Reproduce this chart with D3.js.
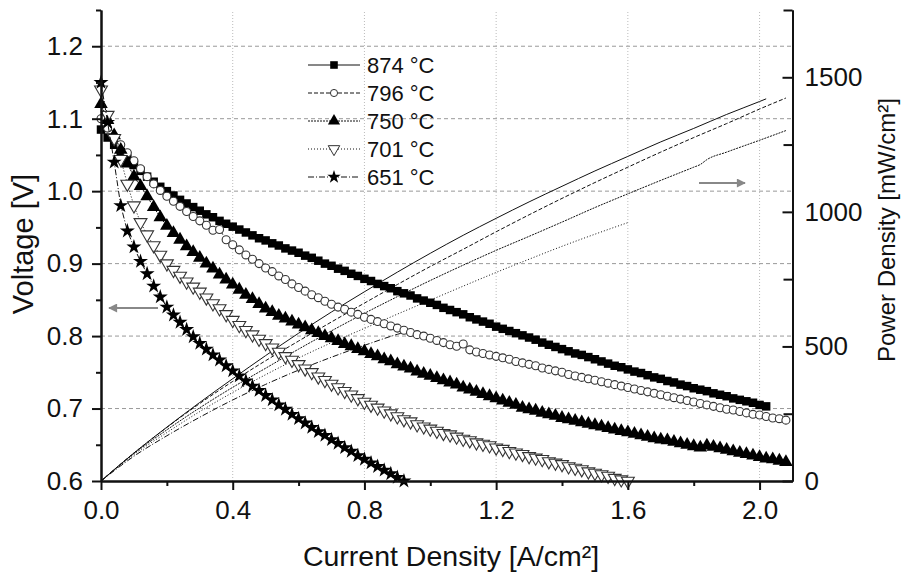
<!DOCTYPE html>
<html>
<head>
<meta charset="utf-8">
<script src="https://cdn.jsdelivr.net/npm/d3@7"></script>
<style>
  body { margin: 0; background: #fff; }
  svg text { font-family: "Liberation Sans", Arial, sans-serif; fill: #111; }
</style>
</head>
<body>
<div id="chart"></div>
<script>
// voltage readings every 0.02 A/cm2, starting at 0
const STEP = 0.02;

const v874 = [1.085,1.074,1.064,1.054,1.045,1.036,1.028,1.020,1.013,1.006,
  1.000,0.994,0.988,0.983,0.978,0.973,0.968,0.964,0.959,0.955,
  0.951,0.947,0.943,0.939,0.935,0.932,0.928,0.925,0.921,0.918,
  0.915,0.911,0.908,0.904,0.900,0.897,0.893,0.890,0.886,0.883,
  0.879,0.876,0.872,0.869,0.866,0.862,0.859,0.856,0.852,0.849,
  0.846,0.843,0.839,0.836,0.833,0.830,0.826,0.823,0.820,0.817,
  0.813,0.810,0.807,0.804,0.801,0.798,0.795,0.791,0.788,0.785,
  0.782,0.779,0.776,0.774,0.771,0.768,0.765,0.762,0.759,0.757,
  0.754,0.751,0.749,0.746,0.743,0.741,0.738,0.736,0.733,0.731,
  0.728,0.726,0.724,0.721,0.719,0.717,0.714,0.712,0.710,0.708,
  0.705,0.703];

const v796 = [1.100,1.087,1.075,1.064,1.053,1.042,1.031,1.020,1.010,1.001,
  0.993,0.986,0.979,0.972,0.965,0.959,0.953,0.946,0.947,0.933,
  0.926,0.919,0.912,0.906,0.900,0.894,0.889,0.883,0.878,0.872,
  0.867,0.862,0.857,0.853,0.848,0.844,0.840,0.837,0.833,0.830,
  0.826,0.823,0.820,0.817,0.814,0.811,0.808,0.805,0.802,0.800,
  0.797,0.794,0.791,0.788,0.786,0.789,0.781,0.778,0.776,0.774,
  0.772,0.770,0.768,0.765,0.763,0.761,0.759,0.756,0.754,0.752,
  0.750,0.747,0.745,0.743,0.741,0.739,0.737,0.735,0.733,0.731,
  0.729,0.727,0.725,0.723,0.721,0.719,0.717,0.715,0.713,0.711,
  0.709,0.707,0.705,0.703,0.701,0.699,0.698,0.696,0.694,0.692,
  0.691,0.689,0.687,0.686,0.684];

const v750 = [1.120,1.098,1.077,1.057,1.038,1.020,1.007,0.993,0.978,0.964,
  0.952,0.942,0.933,0.924,0.916,0.908,0.900,0.893,0.885,0.878,
  0.871,0.864,0.857,0.851,0.844,0.838,0.833,0.828,0.824,0.820,
  0.816,0.812,0.808,0.804,0.800,0.797,0.793,0.789,0.786,0.782,
  0.779,0.775,0.772,0.768,0.765,0.761,0.758,0.755,0.751,0.748,
  0.745,0.742,0.739,0.736,0.733,0.729,0.726,0.723,0.720,0.717,
  0.714,0.711,0.708,0.705,0.701,0.699,0.697,0.694,0.692,0.690,
  0.687,0.685,0.683,0.681,0.679,0.677,0.675,0.673,0.671,0.669,
  0.667,0.665,0.663,0.661,0.659,0.657,0.656,0.654,0.652,0.650,
  0.648,0.646,0.649,0.647,0.645,0.643,0.641,0.639,0.637,0.635,
  0.633,0.631,0.630,0.628,0.626];

const v701 = [1.140,1.105,1.073,1.044,1.010,0.980,0.957,0.940,0.925,0.912,
  0.900,0.891,0.883,0.875,0.868,0.861,0.853,0.845,0.838,0.830,
  0.822,0.815,0.808,0.802,0.796,0.790,0.784,0.778,0.772,0.767,
  0.761,0.755,0.750,0.744,0.739,0.734,0.729,0.724,0.719,0.714,
  0.709,0.705,0.701,0.697,0.693,0.689,0.685,0.682,0.678,0.675,
  0.672,0.669,0.666,0.664,0.661,0.658,0.656,0.653,0.651,0.649,
  0.646,0.644,0.641,0.639,0.637,0.634,0.632,0.630,0.627,0.625,
  0.623,0.620,0.618,0.616,0.613,0.611,0.609,0.607,0.604,0.602,
  0.600];

const v651 = [1.150,1.095,1.040,0.980,0.945,0.923,0.903,0.886,0.869,0.854,
  0.840,0.829,0.819,0.809,0.799,0.790,0.782,0.774,0.767,0.759,
  0.752,0.745,0.738,0.731,0.725,0.718,0.712,0.705,0.699,0.692,
  0.686,0.680,0.674,0.668,0.663,0.657,0.652,0.646,0.641,0.635,
  0.630,0.625,0.620,0.615,0.610,0.605,0.600];

// power density [current, mW/cm2]
const p874 = [[0,0],[0.1,104],[0.2,200],[0.3,292],[0.4,380],[0.5,466],[0.6,549],[0.7,628],[0.8,703],[0.9,776],[1.0,846],
  [1.1,913],[1.2,976],[1.3,1037],[1.4,1095],[1.5,1152],[1.6,1206],[1.7,1260],[1.8,1310],[1.9,1362],[2.0,1410],[2.02,1420]];
const p796 = [[0,0],[0.1,104],[0.2,199],[0.3,288],[0.4,370],[0.5,447],[0.6,520],[0.7,591],[0.8,661],[0.9,730],[1.0,797],
  [1.1,861],[1.2,926],[1.3,989],[1.4,1050],[1.5,1109],[1.6,1166],[1.7,1222],[1.8,1276],[1.9,1328],[2.0,1382],[2.08,1423]];
const p750 = [[0,0],[0.1,102],[0.2,190],[0.3,272],[0.4,348],[0.5,419],[0.6,490],[0.7,558],[0.8,623],[0.9,685],[1.0,745],
  [1.1,802],[1.2,857],[1.3,909],[1.4,962],[1.5,1016],[1.6,1067],[1.7,1117],[1.8,1166],[1.82,1176],[1.84,1194],[1.9,1222],[2.0,1266],[2.08,1302]];
const p701 = [[0,0],[0.1,98],[0.2,180],[0.3,258],[0.4,329],[0.5,395],[0.6,457],[0.7,514],[0.8,567],[0.9,620],[1.0,672],
  [1.1,724],[1.2,775],[1.3,824],[1.4,872],[1.5,917],[1.6,960]];
const p651 = [[0,0],[0.1,92],[0.2,168],[0.3,237],[0.4,301],[0.5,359],[0.6,412],[0.7,460],[0.8,504],[0.9,545],[0.92,552]];

const labels = ["874 °C", "796 °C", "750 °C", "701 °C", "651 °C"];
const xTicks = [0, 0.4, 0.8, 1.2, 1.6, 2.0];
const xMinor = [0.2, 0.6, 1.0, 1.4, 1.8];
const vTicks = [0.6, 0.7, 0.8, 0.9, 1.0, 1.1, 1.2];
const vMinor = [0.65, 0.75, 0.85, 0.95, 1.05, 1.15, 1.25];
const pTicks = [0, 500, 1000, 1500];
const pMinor = [250, 750, 1250, 1750];

function init() {
    const W = 903, H = 573;
    const svg = d3.select("#chart").append("svg").attr("width", W).attr("height", H);

    const x = d3.scaleLinear().domain([0, 2.1]).range([101, 792.5]);
    const yV = d3.scaleLinear().domain([0.6, 1.25]).range([481, 10]);
    const yP = d3.scaleLinear().domain([0, 1750]).range([481, 10]);

    const series = [
        { v: v874, p: p874, dash: null, sym: d3.symbolSquare, size: 72, fill: "#000", rot: 0 },
        { v: v796, p: p796, dash: "4,2", sym: d3.symbolCircle, size: 50, fill: "#fff", rot: 0 },
        { v: v750, p: p750, dash: "2,1", sym: d3.symbolTriangle, size: 80, fill: "#000", rot: 0 },
        { v: v701, p: p701, dash: "1,2", sym: d3.symbolTriangle, size: 72, fill: "#fff", rot: 180 },
        { v: v651, p: p651, dash: "6,2,1,2", sym: d3.symbolStar, size: 70, fill: "#000", rot: 0 }
    ];

    // grid
    svg.append("g").selectAll("line").data(vTicks.slice(1)).join("line")
        .attr("x1", x(0)).attr("x2", x(2.1))
        .attr("y1", d => yV(d)).attr("y2", d => yV(d))
        .attr("stroke", "#999").attr("stroke-dasharray", "4,3");
    svg.append("g").selectAll("line").data(xTicks.slice(1)).join("line")
        .attr("x1", d => x(d)).attr("x2", d => x(d))
        .attr("y1", yV(0.6)).attr("y2", yV(1.25))
        .attr("stroke", "#bbb").attr("stroke-dasharray", "1,2");

    // power lines
    const pLine = d3.line().x(d => x(d[0])).y(d => yP(d[1])).curve(d3.curveMonotoneX);
    series.forEach(s => {
        svg.append("path").datum(s.p)
            .attr("d", pLine)
            .attr("fill", "none").attr("stroke", "#111").attr("stroke-width", 1)
            .attr("stroke-dasharray", s.dash);
    });

    // voltage lines + markers
    const vLine = d3.line().x((d, i) => x(i * STEP)).y(d => yV(d));
    series.forEach(s => {
        svg.append("path").datum(s.v)
            .attr("d", vLine)
            .attr("fill", "none").attr("stroke", "#111").attr("stroke-width", 1)
            .attr("stroke-dasharray", s.dash);
        svg.append("g").selectAll("path").data(s.v).join("path")
            .attr("d", d3.symbol().type(s.sym).size(s.size))
            .attr("transform", (d, i) => `translate(${x(i * STEP)},${yV(d)}) rotate(${s.rot})`)
            .attr("fill", s.fill)
            .attr("stroke", s.fill === "#fff" ? "#333" : "none")
            .attr("stroke-width", 1.1);
    });

    // axes
    function styleAxis(g) {
        g.selectAll("path, line").attr("stroke", "#111").attr("stroke-width", 2);
        g.selectAll("text").style("font-size", "26px");
    }
    const fmt = d3.format(".1f");

    svg.append("g").attr("transform", `translate(${x(0)},0)`)
        .call(d3.axisLeft(yV).tickValues(vTicks).tickFormat(fmt).tickSize(9).tickSizeOuter(0).tickPadding(9))
        .call(styleAxis);
    svg.append("g").attr("transform", `translate(${x(0)},0)`)
        .call(d3.axisLeft(yV).tickValues(vMinor).tickFormat("").tickSize(5).tickSizeOuter(0))
        .call(styleAxis);

    svg.append("g").attr("transform", `translate(0,${yV(0.6)})`)
        .call(d3.axisBottom(x).tickValues(xTicks).tickFormat(fmt).tickSize(9).tickSizeOuter(0).tickPadding(11))
        .call(styleAxis);
    svg.append("g").attr("transform", `translate(0,${yV(0.6)})`)
        .call(d3.axisBottom(x).tickValues(xMinor).tickFormat("").tickSize(5).tickSizeOuter(0))
        .call(styleAxis);

    svg.append("g").attr("transform", `translate(${x(2.1)},0)`)
        .call(d3.axisRight(yP).tickValues(pTicks).tickFormat(d3.format("d")).tickSize(-10).tickSizeOuter(0).tickPadding(12))
        .call(styleAxis);
    svg.append("g").attr("transform", `translate(${x(2.1)},0)`)
        .call(d3.axisRight(yP).tickValues(pMinor).tickFormat("").tickSize(-9).tickSizeOuter(0))
        .call(styleAxis);

    // axis titles
    svg.append("text")
        .attr("transform", "translate(33,244) rotate(-90)")
        .attr("text-anchor", "middle").style("font-size", "29px")
        .text("Voltage [V]");
    svg.append("text")
        .attr("x", 451).attr("y", 566)
        .attr("text-anchor", "middle").style("font-size", "28.5px")
        .text("Current Density [A/cm²]");
    svg.append("text")
        .attr("transform", "translate(895,230) rotate(-90)")
        .attr("text-anchor", "middle").style("font-size", "24px")
        .text("Power Density [mW/cm²]");

    // arrows
    svg.append("defs").append("marker")
        .attr("id", "head").attr("viewBox", "0 0 10 10")
        .attr("refX", 9).attr("refY", 5)
        .attr("markerWidth", 5).attr("markerHeight", 4.5)
        .attr("orient", "auto").attr("markerUnits", "strokeWidth")
        .append("path").attr("d", "M0,0L10,5L0,10Z").attr("fill", "#888");
    [[158, 308, 109, 308], [699, 183, 745, 183]].forEach(a => {
        svg.append("line")
            .attr("x1", a[0]).attr("y1", a[1]).attr("x2", a[2]).attr("y2", a[3])
            .attr("stroke", "#888").attr("stroke-width", 2)
            .attr("marker-end", "url(#head)");
    });

    // legend
    const legend = svg.append("g");
    series.forEach((s, i) => {
        const ly = 65 + i * 28;
        legend.append("line")
            .attr("x1", 308).attr("x2", 360).attr("y1", ly).attr("y2", ly)
            .attr("stroke", "#111").attr("stroke-width", 1)
            .attr("stroke-dasharray", s.dash);
        legend.append("path")
            .attr("d", d3.symbol().type(s.sym).size(s.size * 0.8))
            .attr("transform", `translate(334,${ly}) rotate(${s.rot})`)
            .attr("fill", s.fill)
            .attr("stroke", s.fill === "#fff" ? "#333" : "none");
        legend.append("text")
            .attr("x", 367).attr("y", ly).attr("dy", "0.36em")
            .style("font-size", "22px")
            .text(labels[i]);
    });
}

window.onload = init;
</script>
</body>
</html>
